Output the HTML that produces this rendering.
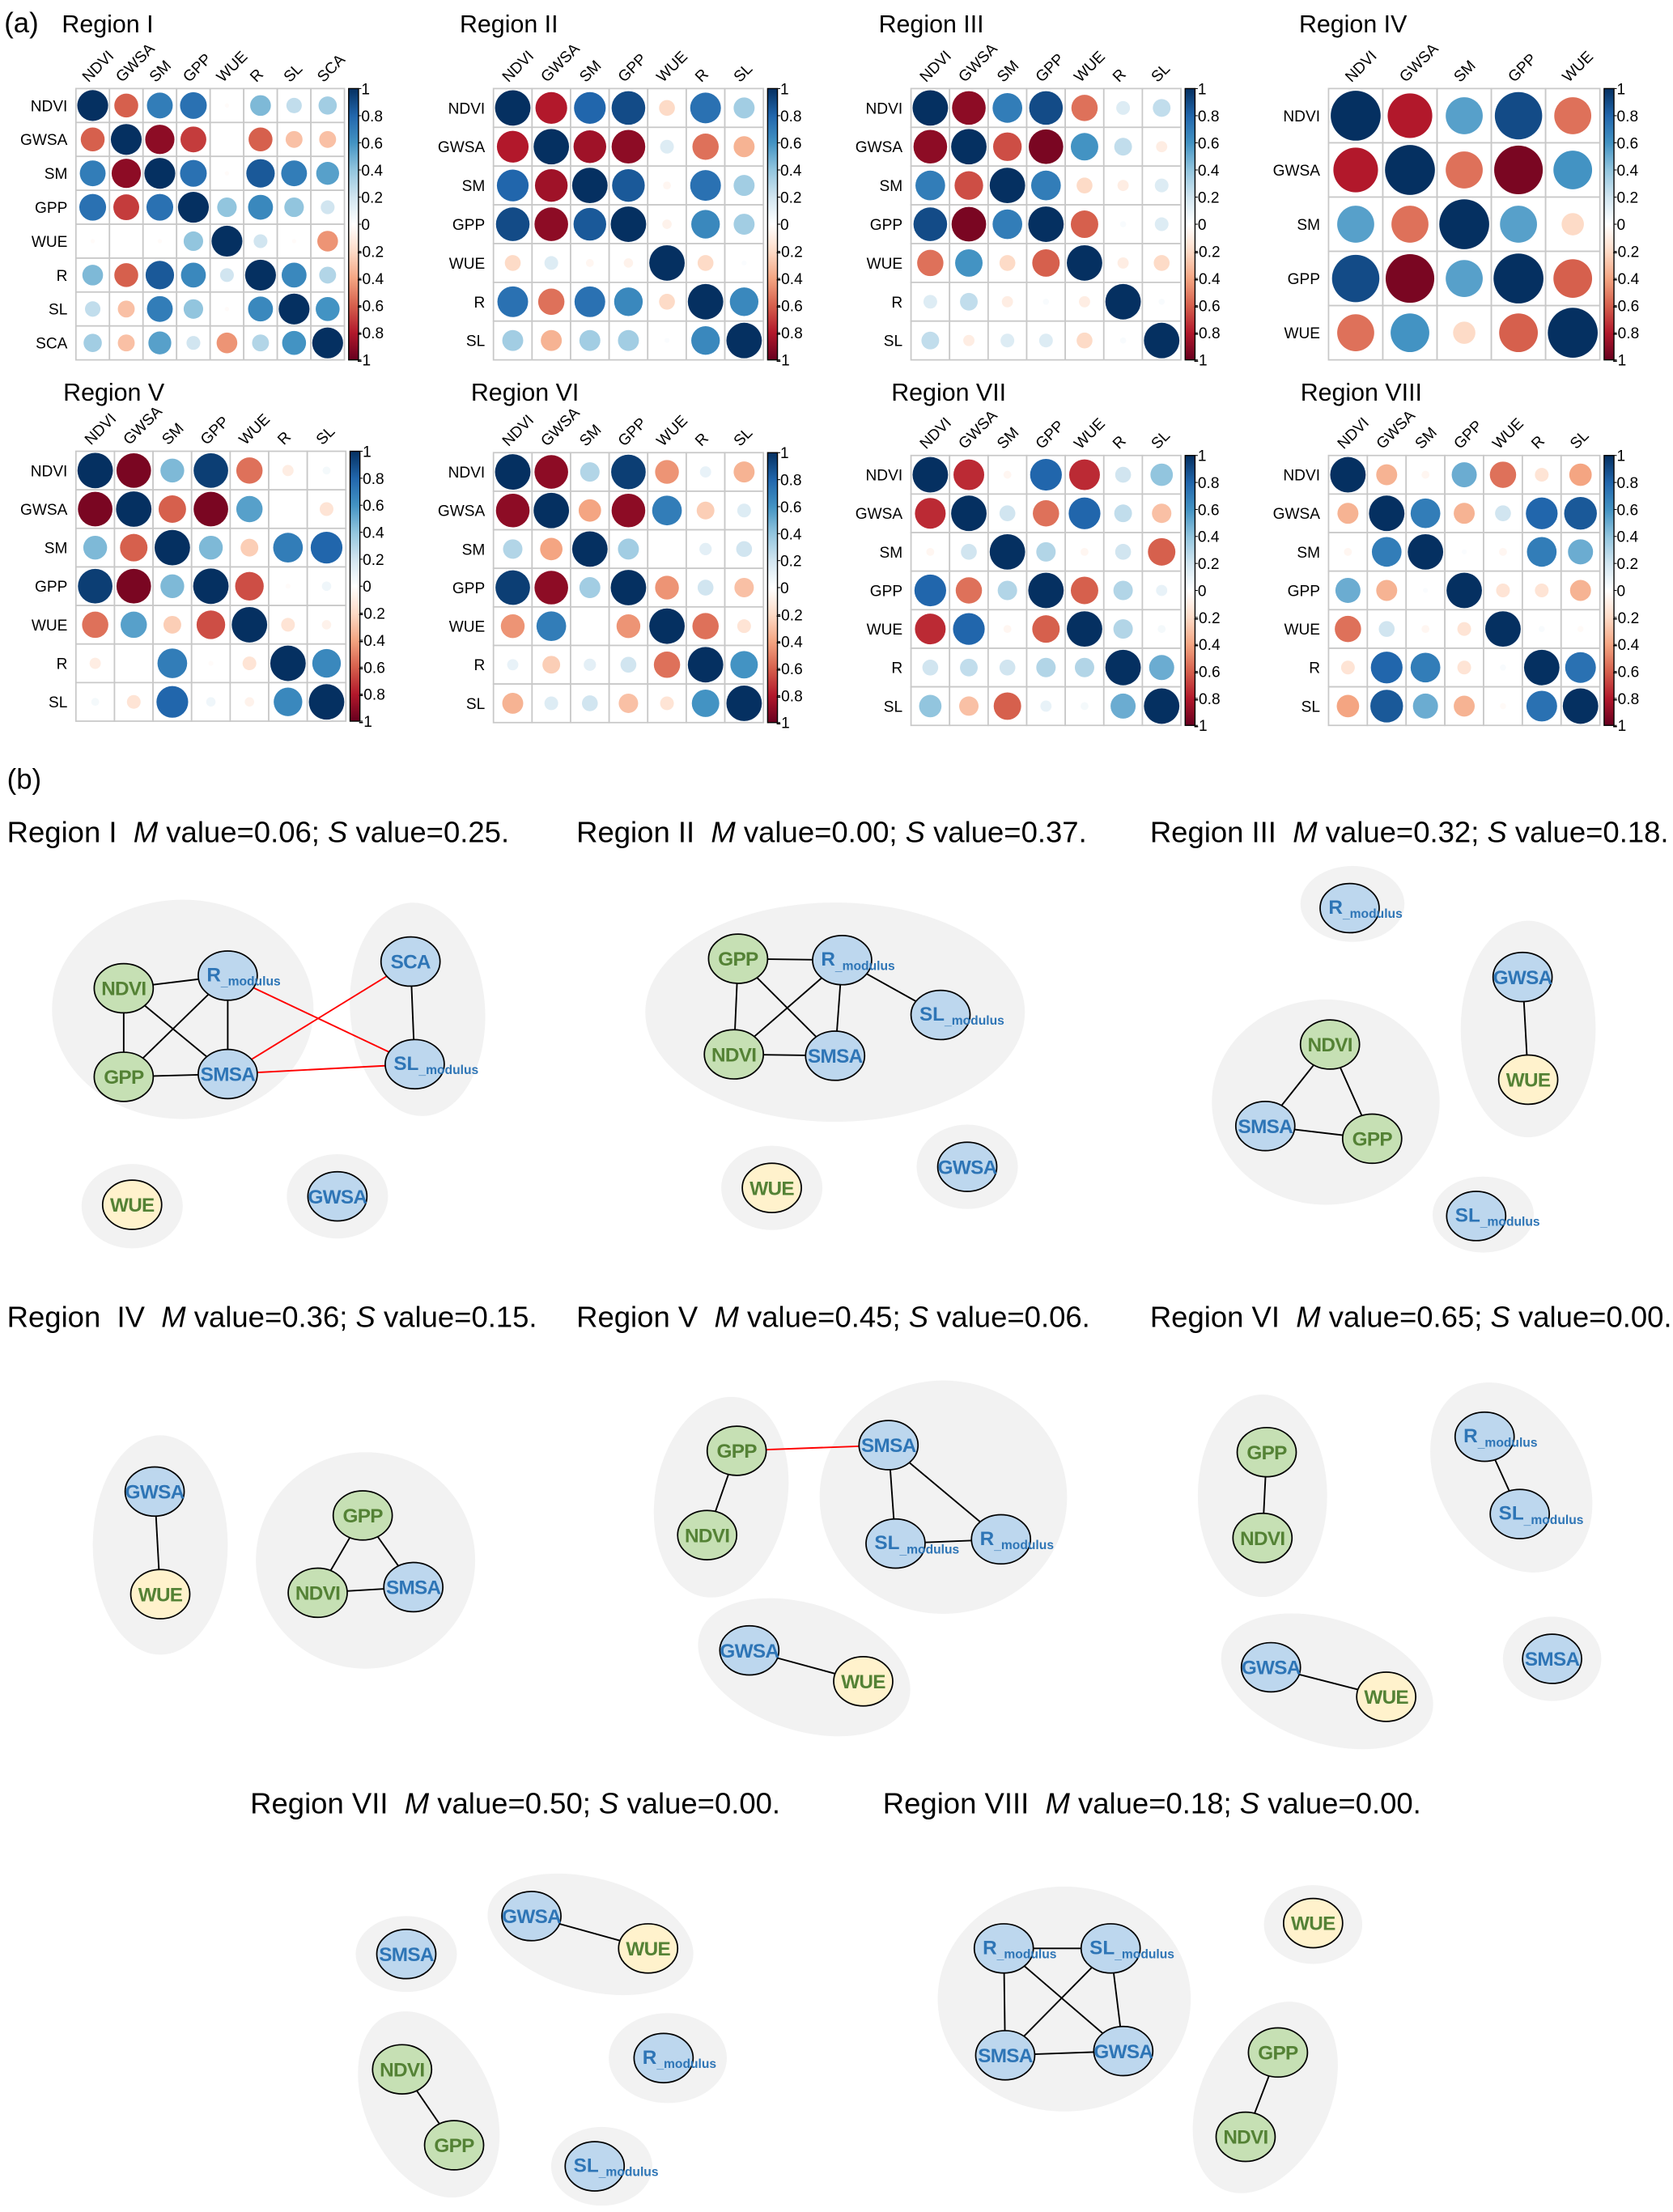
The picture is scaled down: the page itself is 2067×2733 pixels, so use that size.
<!DOCTYPE html>
<html><head><meta charset="utf-8">
<style>
html,body{margin:0;padding:0;background:#fff;}
svg{display:block;}
text{font-family:"Liberation Sans",Arial,sans-serif;}
</style></head>
<body>
<svg id="s" xmlns="http://www.w3.org/2000/svg" width="2067" height="2733" viewBox="0 0 1190 1573.5" preserveAspectRatio="none">
<defs>
<linearGradient id="cb" x1="0" y1="0" x2="0" y2="1">
<stop offset="0" stop-color="#053061"/><stop offset="0.1" stop-color="#2166AC"/><stop offset="0.2" stop-color="#4393C3"/><stop offset="0.3" stop-color="#92C5DE"/><stop offset="0.4" stop-color="#D1E5F0"/><stop offset="0.5" stop-color="#FFFFFF"/><stop offset="0.6" stop-color="#FDDBC7"/><stop offset="0.7" stop-color="#F4A582"/><stop offset="0.8" stop-color="#D6604D"/><stop offset="0.9" stop-color="#B2182B"/><stop offset="1" stop-color="#67001F"/>
</linearGradient>
</defs>
<text x="3" y="23" font-size="20">(a)</text>
<text x="5" y="561" font-size="20">(b)</text>
</svg>
<script>
var S=document.getElementById('s');var out='';
var pal=[[-1,[103,0,31]],[-.8,[178,24,43]],[-.6,[214,96,77]],[-.4,[244,165,130]],[-.2,[253,219,199]],[0,[255,255,255]],[.2,[209,229,240]],[.4,[146,197,222]],[.6,[67,147,195]],[.8,[33,102,172]],[1,[5,48,97]]];
function col(v){for(var i=0;i<pal.length-1;i++){if(v<=pal[i+1][0]){var t=(v-pal[i][0])/0.2,a=pal[i][1],b=pal[i+1][1];return 'rgb('+[0,1,2].map(function(k){return Math.round(a[k]+(b[k]-a[k])*t)}).join(',')+')';}}return 'rgb(5,48,97)';}
function mat(title,tx,ty,x0,x1,y0,y1,labs,M){
 var n=labs.length,cw=(x1-x0)/n,ch=(y1-y0)/n;
 out+='<text x="'+tx+'" y="'+ty+'" font-size="17.5">'+title+'</text>';
 for(var r=0;r<n;r++)for(var c=0;c<n;c++){
  var v=M[r][c],cx=x0+(c+.5)*cw,cy=y0+(r+.5)*ch,rad=Math.sqrt(Math.abs(v))*0.46*Math.min(cw,ch);
  out+='<rect x="'+(x0+c*cw)+'" y="'+(y0+r*ch)+'" width="'+cw+'" height="'+ch+'" fill="#fff" stroke="#c8c8c8" stroke-width="1"/>';
  if(rad>0.3)out+='<circle cx="'+cx+'" cy="'+cy+'" r="'+rad+'" fill="'+col(v)+'"/>';
 }
 for(var i=0;i<n;i++){
  out+='<text x="'+(x0-6)+'" y="'+(y0+(i+.5)*ch+4)+'" font-size="11" text-anchor="end">'+labs[i]+'</text>';
  var cx=x0+(i+.5)*cw-3,cy=y0-4;
  out+='<text transform="translate('+cx+','+cy+') rotate(-45)" font-size="11">'+labs[i]+'</text>';
 }
 var bx=x1+3;
 out+='<rect x="'+bx+'" y="'+y0+'" width="7" height="'+(y1-y0)+'" fill="url(#cb)" stroke="#000" stroke-width="0.8"/>';
 var tl=['1','0.8','0.6','0.4','0.2','0','-0.2','-0.4','-0.6','-0.8','-1'];
 for(var k=0;k<11;k++){var yy=y0+k*(y1-y0)/10;
  out+='<line x1="'+(bx+7)+'" y1="'+yy+'" x2="'+(bx+9)+'" y2="'+yy+'" stroke="#000" stroke-width="0.6"/>';
  out+='<text x="'+(bx+(k>5?6:9))+'" y="'+(yy+4)+'" font-size="11">'+tl[k]+'</text>';}
}
var L8=['NDVI','GWSA','SM','GPP','WUE','R','SL','SCA'],L7=L8.slice(0,7),L5=L8.slice(0,5);
mat('Region I',44,23,54,245,63,256,L8,[
[1,-.6,.7,.75,-.02,.45,.25,.35],[-.6,1,-.9,-.7,0,-.6,-.3,-.3],[.7,-.9,1,.75,-.02,.85,.7,.55],[.75,-.7,.75,1,.4,.65,.4,.2],
[-.02,0,-.02,.4,1,.2,-.02,-.45],[.45,-.6,.85,.65,.2,1,.65,.3],[.25,-.3,.7,.4,-.02,.65,1,.6],[.35,-.3,.55,.2,-.45,.3,.6,1]]);
mat('Region II',327,23,351,543,63,256,L7,[
[1,-.8,.8,.9,-.2,.75,.35],[-.8,1,-.85,-.9,.15,-.55,-.35],[.8,-.85,1,.85,-.05,.75,.35],[.9,-.9,.85,1,-.07,.65,.35],
[-.2,.15,-.05,-.07,1,-.2,.02],[.75,-.55,.75,.65,-.2,1,.65],[.35,-.35,.35,.35,.02,.65,1]]);
mat('Region III',625,23,648,840,63,256,L7,[
[1,-.9,.7,.9,-.55,.15,.25],[-.9,1,-.65,-.95,.6,.25,-.1],[.7,-.65,1,.7,-.2,-.1,.15],[.9,-.95,.7,1,-.6,.03,.15],
[-.55,.6,-.2,-.6,1,-.1,-.2],[.15,.25,-.1,.03,-.1,1,.03],[.25,-.1,.15,.15,-.2,.03,1]]);
mat('Region IV',924,23,945,1138,63,256,L5,[
[1,-.8,.55,.9,-.55],[-.8,1,-.55,-.95,.6],[.55,-.55,1,.55,-.2],[.9,-.95,.55,1,-.6],[-.55,.6,-.2,-.6,1]]);
mat('Region V',45,285,54,246,321,513,L7,[
[1,-.95,.45,.95,-.55,-.1,.05],[-.95,1,-.6,-.95,.55,0,-.15],[.45,-.6,1,.45,-.25,.7,.8],[.95,-.95,.45,1,-.65,-.02,.07],
[-.55,.55,-.25,-.65,1,-.15,-.07],[-.1,0,.7,-.02,-.15,1,.65],[.05,-.15,.8,.07,-.07,.65,1]]);
mat('Region VI',335,285,351,543,322,514,L7,[
[1,-.9,.3,.95,-.45,.1,-.35],[-.9,1,-.4,-.9,.7,-.25,.15],[.3,-.4,1,.35,0,.12,.2],[.95,-.9,.35,1,-.45,.2,-.3],
[-.45,.7,0,-.45,1,-.55,-.15],[.1,-.25,.12,.2,-.55,1,.6],[-.35,.15,.2,-.3,-.15,.6,1]]);
mat('Region VII',634,285,648,840,324,516,L7,[
[1,-.75,-.05,.8,-.75,.2,.4],[-.75,1,.2,-.55,.8,.25,-.3],[-.05,.2,1,.3,-.05,.2,-.6],[.8,-.55,.3,1,-.6,.3,.1],
[-.75,.8,-.05,-.6,1,.3,.05],[.2,.25,.2,.3,.3,1,.5],[.4,-.3,-.6,.1,.05,.5,1]]);
mat('Region VIII',925,285,945,1138,324,516,L7,[
[1,-.35,-.05,.5,-.55,-.15,-.4],[-.35,1,.7,-.35,.2,.8,.85],[-.05,.7,1,.02,-.05,.7,.5],[.5,-.35,.02,1,-.15,-.15,-.35],
[-.55,.2,-.05,-.15,1,.03,-.03],[-.15,.8,.7,-.15,.03,1,.75],[-.4,.85,.5,-.35,-.03,.75,1]]);

/* part b */
function title(x,y,r,m,s){out+='<text x="'+x+'" y="'+y+'" font-size="21" xml:space="preserve">'+r+'  <tspan font-style="italic">M</tspan> value='+m+'; <tspan font-style="italic">S</tspan> value='+s+'.</text>';}
title(5,599,'Region I','0.06','0.25');title(410,599,'Region II','0.00','0.37');title(818,599,'Region III','0.32','0.18');
title(5,944,'Region  IV','0.36','0.15');title(410,944,'Region V','0.45','0.06');title(818,944,'Region VI','0.65','0.00');
title(178,1290,'Region VII','0.50','0.00');title(628,1290,'Region VIII','0.18','0.00');
function blob(cx,cy,rx,ry,a){out+='<ellipse cx="'+cx+'" cy="'+cy+'" rx="'+rx+'" ry="'+ry+'" fill="#f2f2f2" transform="rotate('+(a||0)+' '+cx+' '+cy+')"/>';}
var N={};
function node(id,name,x,y,t){N[id]=[x,y,name,t];}
function edge(a,b,red){out+='<line x1="'+N[a][0]+'" y1="'+N[a][1]+'" x2="'+N[b][0]+'" y2="'+N[b][1]+'" stroke="'+(red?'#ff0000':'#000')+'" stroke-width="1.1"/>';}
function drawNodes(ids){ids.forEach(function(id){var n=N[id],x=n[0],y=n[1],t=n[3];
 var fill=t=='g'?'#c6e0b4':(t=='y'?'#fff2cc':'#bdd7ee'),tc=(t=='b')?'#2e75b6':'#548235';
 out+='<ellipse cx="'+x+'" cy="'+y+'" rx="21" ry="17.5" fill="'+fill+'" stroke="#000" stroke-width="1"/>';
 if(n[2]=='R'||n[2]=='SL'){out+='<text x="'+(x-15)+'" y="'+(y+4)+'" font-size="14" font-weight="bold" fill="'+tc+'">'+n[2]+'<tspan font-size="9" dy="3">_modulus</tspan></text>';}
 else out+='<text x="'+x+'" y="'+(y+5)+'" font-size="14" font-weight="bold" fill="'+tc+'" text-anchor="middle" letter-spacing="-0.4">'+n[2]+'</text>';
});}
function g(ids,edges){edges.forEach(function(e){edge(e[0],e[1],e[2]);});drawNodes(ids);}
/* Region I */
blob(130,718,93,78);blob(297,718,48,76,-4);blob(94,858,36,30);blob(240,851,36,30);
node('a1','NDVI',88,703,'g');node('a2','R',162,694,'b');node('a3','GPP',88,766,'g');node('a4','SMSA',162,764,'b');node('a5','SCA',292,684,'b');node('a6','SL',295,757,'b');node('a7','WUE',94,857,'y');node('a8','GWSA',240,851,'b');
g(['a1','a2','a3','a4','a5','a6','a7','a8'],[['a1','a2'],['a1','a3'],['a1','a4'],['a3','a2'],['a2','a4'],['a3','a4'],['a5','a6'],['a2','a6',1],['a4','a5',1],['a4','a6',1]]);
/* Region II */
blob(594,720,135,78);blob(549,845,36,30);blob(688,830,36,30);
node('b1','GPP',525,682,'g');node('b2','R',599,683,'b');node('b3','SL',669,722,'b');node('b4','NDVI',522,750,'g');node('b5','SMSA',594,751,'b');node('b6','WUE',549,845,'y');node('b7','GWSA',688,830,'b');
g(['b1','b2','b3','b4','b5','b6','b7'],[['b1','b2'],['b1','b4'],['b1','b5'],['b4','b2'],['b2','b5'],['b4','b5'],['b2','b3']]);
/* Region III */
blob(962,643,37,27);blob(1087,732,48,77);blob(943,784,81,73);blob(1055,864,36,27);
node('c1','R',960,646,'b');node('c2','GWSA',1083,695,'b');node('c3','WUE',1087,768,'y');node('c4','NDVI',946,743,'g');node('c5','SMSA',900,801,'b');node('c6','GPP',976,810,'g');node('c7','SL',1050,865,'b');
g(['c1','c2','c3','c4','c5','c6','c7'],[['c2','c3'],['c4','c5'],['c4','c6'],['c5','c6']]);
/* Region IV */
blob(114,1099,48,78);blob(260,1110,78,77);
node('d1','GWSA',110,1061,'b');node('d2','WUE',114,1134,'y');node('d3','GPP',258,1078,'g');node('d4','NDVI',226,1133,'g');node('d5','SMSA',294,1129,'b');
g(['d1','d2','d3','d4','d5'],[['d1','d2'],['d3','d4'],['d3','d5'],['d4','d5']]);
/* Region V */
blob(513,1065,47,72,10);blob(671,1065,88,83);blob(572,1186,78,45,18);
node('e1','GPP',524,1032,'g');node('e2','NDVI',503,1092,'g');node('e3','SMSA',632,1028,'b');node('e4','SL',637,1098,'b');node('e5','R',712,1095,'b');node('e6','GWSA',533,1174,'b');node('e7','WUE',614,1196,'y');
g(['e1','e2','e3','e4','e5','e6','e7'],[['e1','e3',1],['e1','e2'],['e3','e4'],['e3','e5'],['e4','e5'],['e6','e7']]);
/* Region VI */
blob(898,1064,46,72);blob(1075,1051,52,72,-30);blob(944,1196,78,44,18);blob(1104,1180,35,30);
node('f1','GPP',901,1033,'g');node('f2','NDVI',898,1094,'g');node('f3','R',1056,1022,'b');node('f4','SL',1081,1077,'b');node('f5','GWSA',904,1186,'b');node('f6','WUE',986,1207,'y');node('f7','SMSA',1104,1180,'b');
g(['f1','f2','f3','f4','f5','f6','f7'],[['f1','f2'],['f3','f4'],['f5','f6']]);
/* Region VII */
blob(289,1390,36,27);blob(420,1376,75,40,15);blob(305,1497,45,70,-25);blob(475,1464,42,32);blob(428,1541,36,28);
node('h1','SMSA',289,1390,'b');node('h2','GWSA',378,1363,'b');node('h3','WUE',461,1386,'y');node('h4','NDVI',286,1472,'g');node('h5','GPP',323,1526,'g');node('h6','R',472,1464,'b');node('h7','SL',423,1541,'b');
g(['h1','h2','h3','h4','h5','h6','h7'],[['h2','h3'],['h4','h5']]);
/* Region VIII */
blob(757,1422,90,80);blob(934,1369,35,28);blob(900,1492,46,72,25);
node('i1','R',714,1386,'b');node('i2','SL',790,1386,'b');node('i3','SMSA',715,1462,'b');node('i4','GWSA',799,1459,'b');node('i5','WUE',934,1368,'y');node('i6','GPP',909,1460,'g');node('i7','NDVI',886,1520,'g');
g(['i1','i2','i3','i4','i5','i6','i7'],[['i1','i2'],['i1','i3'],['i1','i4'],['i2','i3'],['i2','i4'],['i3','i4'],['i6','i7']]);
S.insertAdjacentHTML('beforeend',out);
</script>
</body></html>
